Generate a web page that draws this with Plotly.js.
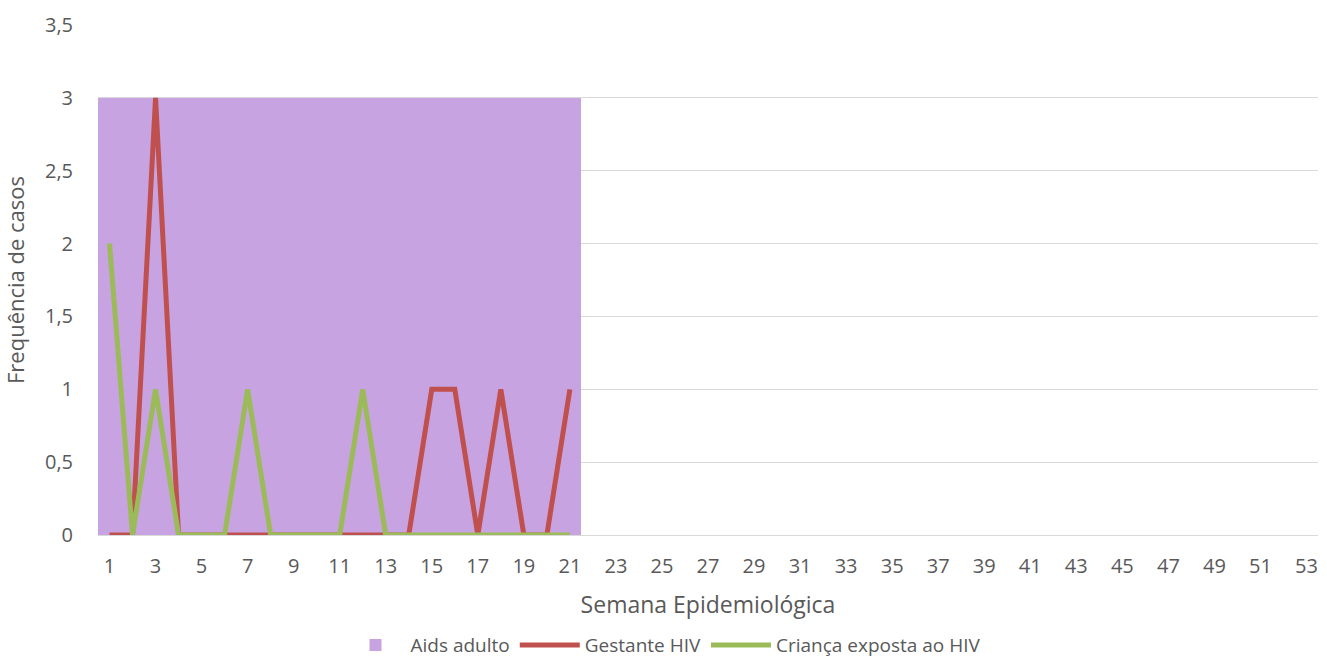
<!DOCTYPE html>
<html>
<head>
<meta charset="utf-8">
<script src="https://cdn.plot.ly/plotly-3.0.1.min.js"></script>
<style>html,body{margin:0;padding:0;background:#fff;}#chart{width:1327px;height:661px;}</style>
</head>
<body>
<div id="chart"></div>
<script>
// Semana epidemiológica 1..53
const weeks = Array.from({length: 53}, (_, i) => i + 1);
const weeksData = [1,2,3,4,5,6,7,8,9,10,11,12,13,14,15,16,17,18,19,20,21];
const aidsAdulto = [3,3,3,3,3,3,3,3,3,3,3,3,3,3,3,3,3,3,3,3,3];
const gestanteHIV = [0,0,3,0,0,0,0,0,0,0,0,0,0,0,1,1,0,1,0,0,1];
const criancaExposta = [2,0,1,0,0,0,1,0,0,0,0,1,0,0,0,0,0,0,0,0,0];
const xTickVals = weeks.filter(w => w % 2 === 1);
const xTickText = xTickVals.map(String);
const yTickVals = [0,0.5,1,1.5,2,2.5,3,3.5];
const yTickText = ['0','0,5','1','1,5','2','2,5','3','3,5'];

const font = "'Open Sans', sans-serif";
const traces = [
  {type:'bar', name:'Aids adulto', x:weeksData, y:aidsAdulto, width:1,
   marker:{color:'#C8A3E2', line:{width:0}}},
  {type:'scatter', mode:'lines', name:'Gestante HIV', x:weeksData, y:gestanteHIV,
   line:{color:'#C0504D', width:5}},
  {type:'scatter', mode:'lines', name:'Criança exposta ao HIV', x:weeksData, y:criancaExposta,
   line:{color:'#9BBB59', width:5}}
];
const layout = {
  width:1327, height:661,
  margin:{l:98, r:9, t:25, b:126, autoexpand:false},
  paper_bgcolor:'#fff', plot_bgcolor:'#fff',
  font:{family:font, size:20, color:'#595959'},
  showlegend:true,
  bargap:0,
  xaxis:{range:[0.5,53.5], tickvals:xTickVals, ticktext:xTickText, ticks:'',
    showgrid:false, zeroline:false, showline:true, linecolor:'#D9D9D9', linewidth:1,
    ticklabelstandoff:13, tickfont:{size:20},
    title:{text:'Semana Epidemiológica', font:{size:23, color:'#595959'}, standoff:18}},
  yaxis:{range:[0,3.5], tickvals:yTickVals, ticktext:yTickText, ticks:'',
    showgrid:true, gridcolor:'#D9D9D9', gridwidth:1, zeroline:false, showline:false,
    ticklabelstandoff:24, tickfont:{size:20},
    title:{text:'Frequência de casos', font:{size:22, color:'#595959'}, standoff:16}},
  legend:{orientation:'h', x:0.5, xanchor:'center', xref:'container',
    yref:'container', y:0.024, yanchor:'middle', itemwidth:60,
    font:{size:19, color:'#595959'}, traceorder:'normal'}
};
Plotly.newPlot('chart', traces, layout, {displayModeBar:false, staticPlot:true});
</script>
</body>
</html>
